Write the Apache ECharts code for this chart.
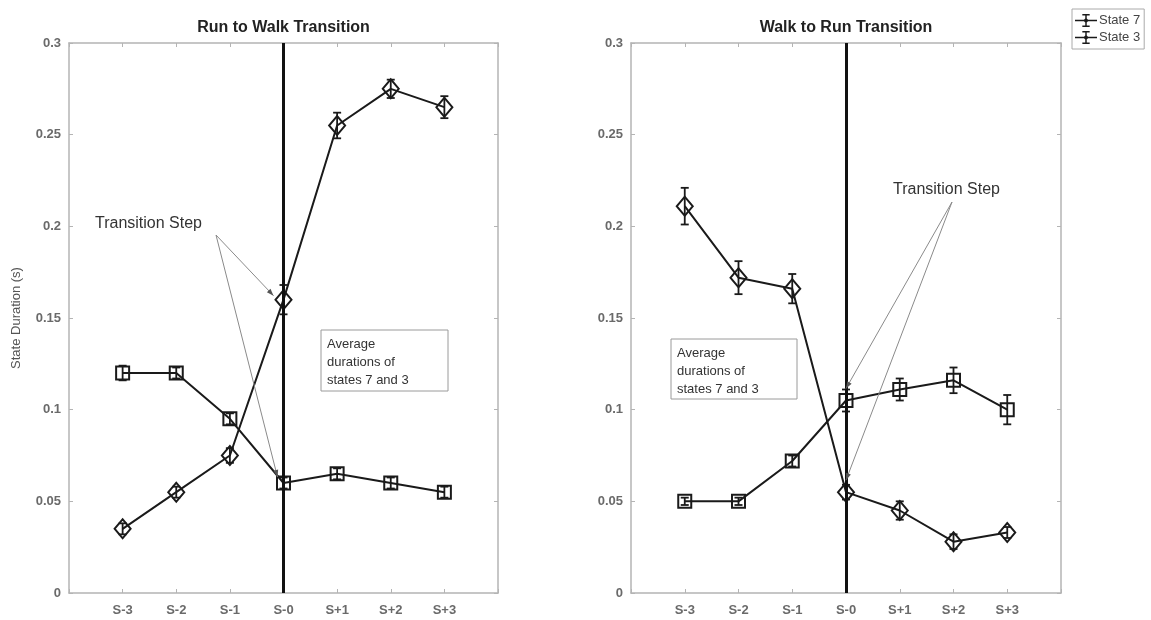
<!DOCTYPE html>
<html>
<head>
<meta charset="utf-8">
<script src="https://cdn.jsdelivr.net/npm/echarts@6/dist/echarts.min.js"></script>
<style>
  html, body { margin: 0; padding: 0; background: #fff; }
  #chart { width: 1151px; height: 620px; }
</style>
</head>
<body>
<div id="chart"></div>
<script>
// Step labels around the gait transition
const steps = ['S-3', 'S-2', 'S-1', 'S-0', 'S+1', 'S+2', 'S+3'];
const transitionStep = 'S-0';

// Run to Walk: mean state durations (s) and error half-widths
const runWalkState7 = [0.035, 0.055, 0.075, 0.160, 0.255, 0.275, 0.265];
const runWalkState7Err = [0.003, 0.003, 0.004, 0.008, 0.007, 0.005, 0.006];
const runWalkState3 = [0.120, 0.120, 0.095, 0.060, 0.065, 0.060, 0.055];
const runWalkState3Err = [0.004, 0.003, 0.003, 0.003, 0.003, 0.003, 0.003];

// Walk to Run: mean state durations (s) and error half-widths
const walkRunState7 = [0.211, 0.172, 0.166, 0.055, 0.045, 0.028, 0.033];
const walkRunState7Err = [0.010, 0.009, 0.008, 0.004, 0.005, 0.004, 0.003];
const walkRunState3 = [0.050, 0.050, 0.072, 0.105, 0.111, 0.116, 0.100];
const walkRunState3Err = [0.002, 0.002, 0.003, 0.006, 0.006, 0.007, 0.008];

// Y axis ticks
const yTicks = [0, 0.05, 0.1, 0.15, 0.2, 0.25, 0.3];

const panelTitles = ['Run to Walk Transition', 'Walk to Run Transition'];
const yAxisTitle = 'State Duration (s)';
const noteText = 'Average\ndurations of\nstates 7 and 3';
const arrowText = 'Transition Step';

const FONT = '"Liberation Sans", Arial, sans-serif';
const FRAME = '#b4b4b4';
const LABEL = '#6a6a6a';
const INK = '#1a1a1a';

const chart = echarts.init(document.getElementById('chart'));

const grids = [
  { left: 69, top: 43, width: 429, height: 550 },
  { left: 631, top: 43, width: 430, height: 550 }
];

const stepPos = i => i + 1;
const xMax = steps.length + 1;

function xAxes(gi) {
  const base = {
    type: 'value', gridIndex: gi, min: 0, max: xMax, interval: 1,
    splitLine: { show: false },
    axisLine: { show: true, onZero: false, lineStyle: { color: FRAME, width: 1.5 } },
    axisTick: { show: true, inside: true, length: 4, lineStyle: { color: FRAME } }
  };
  return [
    Object.assign({}, base, {
      position: 'bottom',
      axisLabel: {
        color: LABEL, fontFamily: FONT, fontSize: 13, fontWeight: 'bold', margin: 11,
        formatter: v => (v >= 1 && v <= steps.length) ? steps[v - 1] : ''
      }
    }),
    Object.assign({}, base, { position: 'top', axisLabel: { show: false } })
  ];
}

function yAxes(gi) {
  const base = {
    type: 'value', gridIndex: gi, min: yTicks[0], max: yTicks[yTicks.length - 1],
    interval: yTicks[1] - yTicks[0],
    splitLine: { show: false },
    axisLine: { show: true, onZero: false, lineStyle: { color: FRAME, width: 1.5 } },
    axisTick: { show: true, inside: true, length: 4, lineStyle: { color: FRAME } }
  };
  const left = Object.assign({}, base, {
    position: 'left',
    axisLabel: { color: LABEL, fontFamily: FONT, fontSize: 13, fontWeight: 'bold', margin: 8,
                 formatter: v => String(+v.toFixed(2)) }
  });
  if (gi === 0) {
    Object.assign(left, {
      name: yAxisTitle, nameLocation: 'middle', nameGap: 46, nameRotate: 90,
      nameTextStyle: { color: '#555', fontFamily: FONT, fontSize: 13 }
    });
  }
  return [left, Object.assign({}, base, { position: 'right', axisLabel: { show: false } })];
}

function lineSeries(name, values, gi, symbol, size) {
  return {
    name, type: 'line', xAxisIndex: gi * 2, yAxisIndex: gi * 2,
    data: values.map((v, i) => [stepPos(i), v]),
    symbol, symbolSize: size,
    lineStyle: { color: INK, width: 2 },
    itemStyle: { color: 'rgba(255,255,255,0)', borderColor: INK, borderWidth: 2 },
    z: 4, silent: true
  };
}

function errorSeries(name, values, errs, gi) {
  return {
    name, type: 'custom', xAxisIndex: gi * 2, yAxisIndex: gi * 2, z: 3, silent: true,
    data: values.map((v, i) => [stepPos(i), v - errs[i], v + errs[i]]),
    renderItem: (params, api) => {
      const lo = api.coord([api.value(0), api.value(1)]);
      const hi = api.coord([api.value(0), api.value(2)]);
      const hw = 4;
      const st = { stroke: INK, lineWidth: 1.8 };
      return {
        type: 'group',
        children: [
          { type: 'line', shape: { x1: lo[0], y1: lo[1], x2: hi[0], y2: hi[1] }, style: st },
          { type: 'line', shape: { x1: lo[0] - hw, y1: lo[1], x2: lo[0] + hw, y2: lo[1] }, style: st },
          { type: 'line', shape: { x1: hi[0] - hw, y1: hi[1], x2: hi[0] + hw, y2: hi[1] }, style: st }
        ]
      };
    }
  };
}

const transX = stepPos(steps.indexOf(transitionStep));

function transitionLine(gi) {
  return {
    type: 'line', xAxisIndex: gi * 2, yAxisIndex: gi * 2, data: [], silent: true,
    markLine: {
      symbol: 'none', silent: true, animation: false,
      label: { show: false },
      lineStyle: { color: '#111', width: 3, type: 'solid' },
      data: [{ xAxis: transX }]
    },
    z: 2
  };
}

const diamond = 'diamond';
const square = 'rect';

// Legend icon: a line with an error bar and a small marker
const legendIcon = 'path://M0 6.2H24V7.8H0Z M11.2 0H12.8V14H11.2Z M8 0H16V1.5H8Z M8 12.5H16V14H8Z M12 4L15 7L12 10L9 7Z';

chart.setOption({
  animation: false,
  grid: grids,
  xAxis: xAxes(0).concat(xAxes(1)),
  yAxis: yAxes(0).concat(yAxes(1)),
  legend: {
    orient: 'vertical', left: 1072, top: 9,
    padding: [5, 4, 5, 3], itemGap: 4, itemWidth: 22, itemHeight: 13,
    borderColor: '#aaa', borderWidth: 1,
    textStyle: { color: '#444', fontFamily: FONT, fontSize: 13, padding: [0, 0, 0, -3] },
    data: [
      { name: 'State 7', icon: legendIcon, itemStyle: { color: INK } },
      { name: 'State 3', icon: legendIcon, itemStyle: { color: INK } }
    ],
    selectedMode: false
  },
  series: [
    transitionLine(0),
    errorSeries('State 7', runWalkState7, runWalkState7Err, 0),
    errorSeries('State 3', runWalkState3, runWalkState3Err, 0),
    lineSeries('State 7', runWalkState7, 0, diamond, [16, 19]),
    lineSeries('State 3', runWalkState3, 0, square, [13, 13]),
    transitionLine(1),
    errorSeries('State 7', walkRunState7, walkRunState7Err, 1),
    errorSeries('State 3', walkRunState3, walkRunState3Err, 1),
    lineSeries('State 7', walkRunState7, 1, diamond, [16, 19]),
    lineSeries('State 3', walkRunState3, 1, square, [13, 13])
  ]
});

// Annotations: titles, callout arrows and note boxes
const idx = steps.indexOf(transitionStep);
const px = (gi, v, dx, dy) => {
  const p = chart.convertToPixel({ gridIndex: gi }, [transX, v]);
  return [p[0] + dx, p[1] + dy];
};

function arrow(from, to) {
  const ang = Math.atan2(to[1] - from[1], to[0] - from[0]);
  const len = 7, w = 2.5;
  const bx = to[0] - len * Math.cos(ang), by = to[1] - len * Math.sin(ang);
  const nx = -Math.sin(ang) * w, ny = Math.cos(ang) * w;
  return [
    { type: 'line', shape: { x1: from[0], y1: from[1], x2: to[0], y2: to[1] },
      style: { stroke: '#8a8a8a', lineWidth: 1 }, z: 20 },
    { type: 'polygon', shape: { points: [to, [bx + nx, by + ny], [bx - nx, by - ny]] },
      style: { fill: '#555' }, z: 20 }
  ];
}

function noteBox(x, y, w, h) {
  return {
    type: 'group', x, y, z: 20,
    children: [
      { type: 'rect', shape: { x: 0, y: 0, width: w, height: h },
        style: { fill: '#fff', stroke: '#9a9a9a', lineWidth: 1 } },
      { type: 'text', x: 6, y: 5,
        style: { text: noteText, fill: '#333', font: '13px ' + FONT, lineHeight: 18 } }
    ]
  };
}

function titleText(gi) {
  const g = grids[gi];
  return {
    type: 'text', x: g.left + g.width / 2, y: 28, z: 20,
    style: { text: panelTitles[gi], fill: '#222', font: 'bold 16px ' + FONT,
             textAlign: 'center', textVerticalAlign: 'middle' }
  };
}

const leftOrigin = [216, 235];
const rightOrigin = [952, 202];

const graphics = [
  titleText(0), titleText(1),
  { type: 'text', x: 95, y: 224, z: 20,
    style: { text: arrowText, fill: '#333', font: '16px ' + FONT, textVerticalAlign: 'middle' } },
  { type: 'text', x: 893, y: 190, z: 20,
    style: { text: arrowText, fill: '#333', font: '16px ' + FONT, textVerticalAlign: 'middle' } },
  noteBox(321, 330, 127, 61),
  noteBox(671, 339, 126, 60)
]
  .concat(arrow(leftOrigin, px(0, runWalkState7[idx], -10, -4)))
  .concat(arrow(leftOrigin, px(0, runWalkState3[idx], -6, -6)))
  .concat(arrow(rightOrigin, px(1, walkRunState3[idx], 0, -12)))
  .concat(arrow(rightOrigin, px(1, walkRunState7[idx], 0, -12)));

chart.setOption({ graphic: graphics });
</script>
</body>
</html>
